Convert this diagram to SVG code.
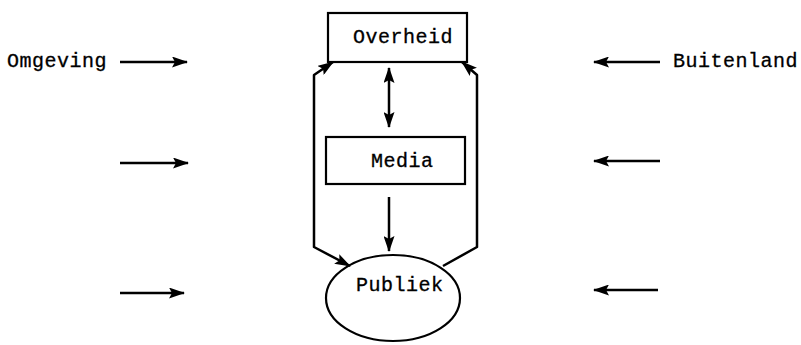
<svg xmlns="http://www.w3.org/2000/svg" width="801" height="345" viewBox="0 0 801 345">
  <style>
    .box { fill: #fff; stroke: #000; stroke-width: 2.2; }
    .lbl { font-family: "Liberation Mono", "DejaVu Sans Mono", monospace; font-size: 20px; fill: #000; stroke: #000; stroke-width: 0.3; letter-spacing: 0.5px; }
    .edge { fill: none; stroke: #000; stroke-width: 2.5; stroke-linejoin: round; }
  </style>
  <defs>
    <marker id="head" viewBox="0 0 16 11" refX="15" refY="5.5" markerWidth="16" markerHeight="11" markerUnits="userSpaceOnUse" orient="auto-start-reverse">
      <path d="M0,0 L16,5.5 L0,11 L3,5.5 Z" fill="#000"/>
    </marker>
  </defs>

  <rect width="801" height="345" fill="#fff"/>

  <g id="overheid">
    <rect class="box" x="328" y="13" width="139" height="49"/>
    <text class="lbl" x="353" y="43">Overheid</text>
  </g>

  <g id="media">
    <rect class="box" x="326" y="137" width="139" height="47"/>
    <text class="lbl" x="371" y="167">Media</text>
  </g>

  <g id="publiek">
    <ellipse class="box" cx="393" cy="298" rx="67" ry="43"/>
    <text class="lbl" x="356" y="291">Publiek</text>
  </g>

  <g id="omgeving">
    <text class="lbl" x="7" y="67">Omgeving</text>
  </g>

  <g id="buitenland">
    <text class="lbl" x="673" y="67">Buitenland</text>
  </g>

  <g id="connectors">
    <!-- Overheid <-> Media -->
    <path class="edge" d="M389,68 L389,127" marker-start="url(#head)" marker-end="url(#head)"/>
    <!-- Media -> Publiek -->
    <path class="edge" d="M389,197 L389,251" marker-end="url(#head)"/>
    <!-- left loop: heads at Overheid and at Publiek -->
    <path class="edge" d="M333,62 L314,75 L314,247 L350,266" marker-start="url(#head)" marker-end="url(#head)"/>
    <!-- right loop -->
    <path class="edge" d="M462,62 L477,75 L477,247 L443,266" marker-start="url(#head)"/>

    <!-- incoming from the left -->
    <path class="edge" d="M120,62 L187,62" marker-end="url(#head)"/>
    <path class="edge" d="M120,163 L188,163" marker-end="url(#head)"/>
    <path class="edge" d="M120,293 L184,293" marker-end="url(#head)"/>

    <!-- incoming from the right -->
    <path class="edge" d="M660,62 L594,62" marker-end="url(#head)"/>
    <path class="edge" d="M660,161 L594,161" marker-end="url(#head)"/>
    <path class="edge" d="M658,290 L594,290" marker-end="url(#head)"/>
  </g>
</svg>
